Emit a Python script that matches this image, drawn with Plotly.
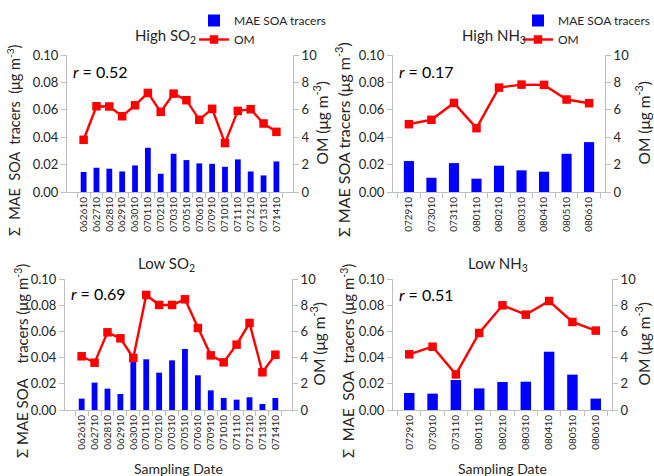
import plotly.graph_objects as go

# ---------------- data ----------------
dates_so2 = ["062610", "062710", "062810", "062910", "063010", "070110", "070210", "070310",
             "070510", "070610", "070910", "071010", "071110", "071210", "071310", "071410"]
dates_nh3 = ["072910", "073010", "073110", "080110", "080210", "080310", "080410", "080510", "080610"]

high_so2_tracers = [0.0146, 0.0177, 0.0170, 0.0150, 0.0194, 0.0323, 0.0133, 0.0279,
                    0.0233, 0.0209, 0.0206, 0.0184, 0.0238, 0.0150, 0.0121, 0.0223]
high_so2_om = [3.81, 6.26, 6.24, 5.53, 6.33, 7.23, 5.85, 7.18,
               6.70, 5.27, 6.07, 3.57, 5.92, 6.04, 5.00, 4.39]

high_nh3_tracers = [0.0226, 0.0104, 0.0211, 0.0097, 0.0192, 0.0158, 0.0148, 0.0279, 0.0364]
high_nh3_om = [4.95, 5.27, 6.50, 4.66, 7.62, 7.84, 7.82, 6.75, 6.48]

low_so2_tracers = [0.0087, 0.0209, 0.0163, 0.0122, 0.0376, 0.0387, 0.0285, 0.0379,
                   0.0466, 0.0265, 0.0150, 0.0092, 0.0079, 0.0097, 0.0046, 0.0092]
low_so2_om = [4.10, 3.61, 5.93, 5.47, 3.97, 8.78, 8.02, 8.02,
              8.45, 6.26, 4.17, 3.64, 4.99, 6.64, 2.88, 4.22]

low_nh3_tracers = [0.0130, 0.0125, 0.0229, 0.0165, 0.0214, 0.0216, 0.0445, 0.0270, 0.0087]
low_nh3_om = [4.25, 4.83, 2.72, 5.88, 7.99, 7.28, 8.32, 6.72, 6.06]

panel_titles = ["High SO<sub>2</sub>", "High NH<sub>3</sub>", "Low SO<sub>2</sub>", "Low NH<sub>3</sub>"]
r_values = ["0.52", "0.17", "0.69", "0.51"]
tracer_name = "MAE SOA tracers"
om_name = "OM"
NB = "\u00a0"
left_titles = [
    f"Σ{NB}{NB}MAE{NB}{NB}SOA{NB}{NB}tracers{NB}{NB}(μg m<sup>-3</sup>)",
    "Σ MAE SOA tracers (μg m<sup>-3</sup>)",
    f"Σ MAE SOA{NB}{NB}{NB}{NB}tracers (μg m<sup>-3</sup>)",
    f"Σ{NB}{NB}MAE{NB}{NB}SOA{NB}{NB}tracers (μg m<sup>-3</sup>)",
]
right_title = "OM (μg m<sup>-3</sup>)"
x_title = "Sampling Date"

# ---------------- layout helpers ----------------
W, H = 654, 476
FONT = "Lato, Liberation Sans, sans-serif"
BLUE = "#0000FF"
RED = "#FF0000"
AXC = "#BFBFBF"
TXT = "#262626"

def px_x(p):
    return p / W

def px_y(p):
    return 1 - p / H

# plot areas in pixels: (x0, x1, ytop, ybottom)
areas = [(67, 293, 55, 192), (393, 605, 55, 192), (65, 292, 279, 410), (393, 612, 279, 410)]
title_xc = [165, 494, 166, 498]
title_off = [19, 19, 15, 15]
r_off = [16, 16, 14, 15]
left_title_x = [13, 342, 21, 347]
left_title_size = [14.5, 16, 15, 15]
right_title_x = [321, 643, 318, 643]
left_title_yc = [140, 140, 361, 361]

panels = [
    (dates_so2, high_so2_tracers, high_so2_om),
    (dates_nh3, high_nh3_tracers, high_nh3_om),
    (dates_so2, low_so2_tracers, low_so2_om),
    (dates_nh3, low_nh3_tracers, low_nh3_om),
]

fig = go.Figure()
layout = dict(
    width=W, height=H,
    margin=dict(l=0, r=0, t=0, b=0, autoexpand=False),
    paper_bgcolor="white", plot_bgcolor="white",
    font=dict(family=FONT, color=TXT, size=13),
    bargap=0.55,
    showlegend=True,
)
annotations = []

for i, ((dates, tr, om), (x0, x1, yt, yb)) in enumerate(zip(panels, areas)):
    n = i + 1
    xa = "x" if n == 1 else f"x{n}"
    ya_l = f"y{2*n-1}" if n > 1 else "y"
    ya_r = f"y{2*n}"
    xkey = "xaxis" if n == 1 else f"xaxis{n}"
    ylkey = "yaxis" if n == 1 else f"yaxis{2*n-1}"
    yrkey = f"yaxis{2*n}"
    leg = "legend" if n == 1 else "legend2"
    show = n in (1, 2)

    fig.add_trace(go.Bar(x=dates, y=tr, name=tracer_name, marker=dict(color=BLUE, line=dict(width=0)),
                         xaxis=xa, yaxis=ya_l, showlegend=show, legend=leg))
    fig.add_trace(go.Scatter(x=dates, y=om, name=om_name, mode="lines+markers",
                             line=dict(color=RED, width=2.4),
                             marker=dict(symbol="square", size=8.5, color=RED),
                             xaxis=xa, yaxis=ya_r, showlegend=show, legend=leg))

    dom_x = [px_x(x0), px_x(x1)]
    dom_y = [px_y(yb), px_y(yt)]
    layout[xkey] = dict(domain=dom_x, anchor=ya_l, type="category", tickangle=-90,
                        tickmode="linear", dtick=1, automargin=False,
                        showline=True, linecolor=AXC, linewidth=1,
                        ticks="outside", tickson="boundaries", ticklen=5, tickcolor=AXC,
                        tickfont=dict(size=10, color=TXT), showgrid=False, zeroline=False)
    layout[ylkey] = dict(domain=dom_y, anchor=xa, range=[0, 0.1], dtick=0.02, tickformat=".2f",
                         automargin=False,
                         showline=True, linecolor=AXC, linewidth=1, ticks="outside",
                         ticklen=5, tickcolor=AXC, showgrid=False, zeroline=False,
                         tickfont=dict(size=13, color=TXT))
    layout[yrkey] = dict(domain=dom_y, anchor=xa, overlaying=ya_l, side="right",
                         automargin=False,
                         range=[0, 10], dtick=2, showline=True, linecolor=AXC, linewidth=1,
                         ticks="outside", ticklen=5, tickcolor=AXC, showgrid=False, zeroline=False,
                         tickfont=dict(size=13, color=TXT))

    annotations.append(dict(text=left_titles[i], x=px_x(left_title_x[i]), y=px_y(left_title_yc[i]),
                            xref="paper", yref="paper", showarrow=False, textangle=-90,
                            xanchor="center", yanchor="middle",
                            font=dict(size=left_title_size[i], color=TXT)))
    annotations.append(dict(text=right_title, x=px_x(right_title_x[i]), y=px_y((yt + yb) / 2),
                            xref="paper", yref="paper", showarrow=False, textangle=-90,
                            xanchor="center", yanchor="middle",
                            font=dict(size=15.5, color=TXT)))
    annotations.append(dict(text=panel_titles[i], x=px_x(title_xc[i]), y=px_y(yt - title_off[i]),
                            xref="paper", yref="paper", showarrow=False,
                            xanchor="center", yanchor="middle",
                            font=dict(size=15, color=TXT)))
    annotations.append(dict(text=f"<i>r</i> = {r_values[i]}", x=px_x(x0 + 4), y=px_y(yt + r_off[i]),
                            xref="paper", yref="paper", showarrow=False,
                            xanchor="left", yanchor="middle",
                            font=dict(size=16, color="black")))
    if n in (3, 4):
        annotations.append(dict(text=x_title, x=(x0 + x1) / 2 / W, y=px_y(468),
                                xref="paper", yref="paper", showarrow=False,
                                xanchor="center", yanchor="middle",
                                font=dict(size=14, color=TXT)))

layout["annotations"] = annotations
layout["legend"] = dict(x=px_x(194), y=px_y(6), xanchor="left", yanchor="top",
                        bgcolor="rgba(0,0,0,0)", font=dict(size=12, color=TXT),
                        itemwidth=30, tracegroupgap=0)
layout["legend2"] = dict(x=px_x(518), y=px_y(6), xanchor="left", yanchor="top",
                         bgcolor="rgba(0,0,0,0)", font=dict(size=12, color=TXT),
                         itemwidth=30, tracegroupgap=0)

fig.update_layout(**layout)
fig.write_html("out.html", config={"displayModeBar": False},
               post_script="document.body.style.margin='0';document.body.style.overflow='hidden';")
